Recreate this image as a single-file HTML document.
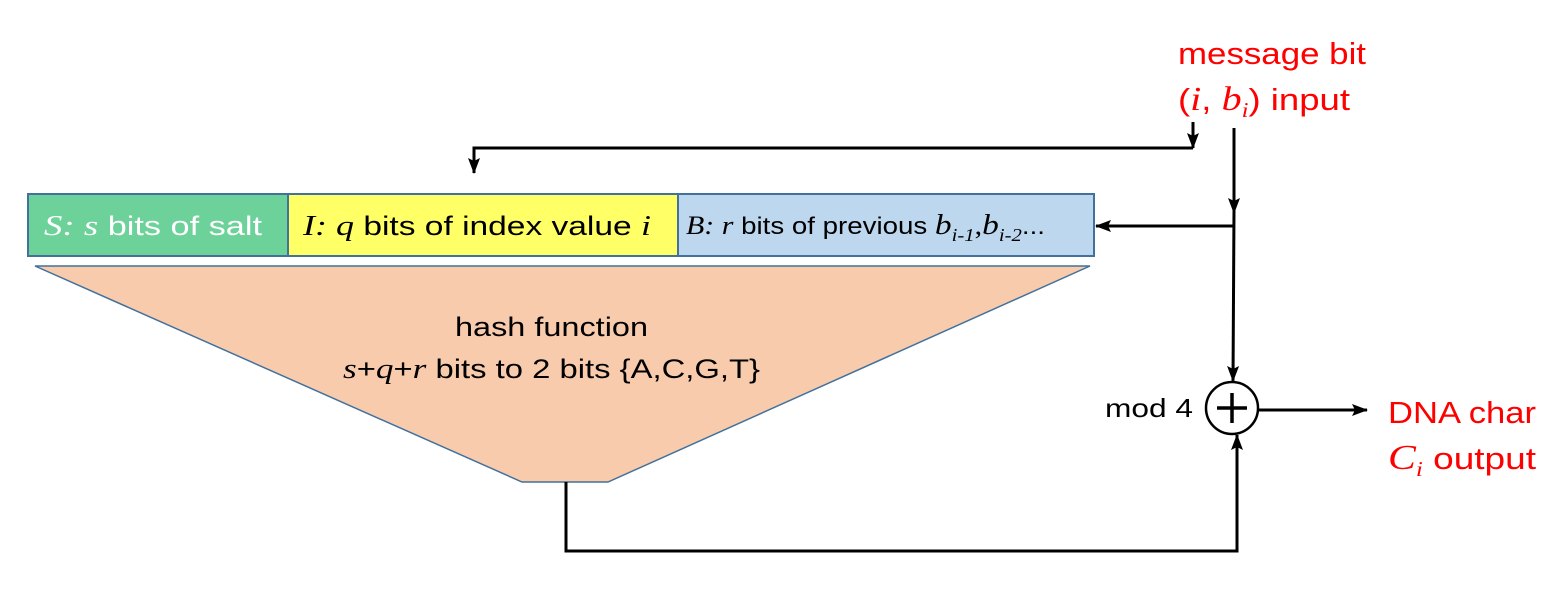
<!DOCTYPE html>
<html><head><style>html,body{margin:0;padding:0;background:#fff;}svg{display:block}</style></head>
<body>
<svg width="1556" height="596" viewBox="0 0 1556 596" xmlns="http://www.w3.org/2000/svg">
<defs>
<marker id="a" markerWidth="16" markerHeight="14" refX="15" refY="7" orient="auto" markerUnits="userSpaceOnUse" viewBox="0 0 16 14">
<path d="M0,1 L16,7 L0,13 L3,7 Z" fill="#000"/></marker>
</defs>
<g stroke="#41719c" stroke-width="2">
<rect x="28" y="194" width="260" height="62" fill="#6dd19a"/>
<rect x="288" y="194" width="390" height="62" fill="#ffff66"/>
<rect x="678" y="194" width="416" height="62" fill="#bdd7ee"/>
<polygon points="35,266 1090,266 608,482 522,482" fill="#f8cbad" stroke-width="1.5"/>
</g>
<g font-family="Liberation Sans, sans-serif" font-size="27">
<text x="44" y="235" fill="#fff" textLength="218" lengthAdjust="spacingAndGlyphs"><tspan font-family="Liberation Serif, serif" font-style="italic" font-size="29">S: s</tspan> bits of salt</text>
<text x="303" y="235" fill="#000" textLength="348" lengthAdjust="spacingAndGlyphs"><tspan font-family="Liberation Serif, serif" font-style="italic" font-size="29">I: q</tspan> bits of index value <tspan font-family="Liberation Serif, serif" font-style="italic" font-size="29">i</tspan></text>
<text x="686" y="234" font-size="24" fill="#000" textLength="359" lengthAdjust="spacingAndGlyphs"><tspan font-family="Liberation Serif, serif" font-style="italic" font-size="26">B: r</tspan> bits of previous <tspan font-family="Liberation Serif, serif" font-style="italic" font-size="29">b</tspan><tspan font-family="Liberation Serif, serif" font-style="italic" font-size="18" dy="7">i-1</tspan><tspan dy="-7" font-family="Liberation Serif, serif" font-size="26">,</tspan><tspan font-family="Liberation Serif, serif" font-style="italic" font-size="29">b</tspan><tspan font-family="Liberation Serif, serif" font-style="italic" font-size="18" dy="7">i-2</tspan><tspan dy="-7">...</tspan></text>
<text x="455" y="336" font-size="27" textLength="193" lengthAdjust="spacingAndGlyphs">hash function</text>
<text x="343" y="378" font-size="27" textLength="417" lengthAdjust="spacingAndGlyphs"><tspan font-family="Liberation Serif, serif" font-style="italic" font-size="29">s</tspan>+<tspan font-family="Liberation Serif, serif" font-style="italic" font-size="29">q</tspan>+<tspan font-family="Liberation Serif, serif" font-style="italic" font-size="29">r</tspan> bits to 2 bits {A,C,G,T}</text>
<text x="1105" y="417" font-size="26" textLength="88" lengthAdjust="spacingAndGlyphs">mod 4</text>
<g fill="#ff0000" font-size="31">
<text x="1178" y="64" textLength="188" lengthAdjust="spacingAndGlyphs">message bit</text>
<text x="1178" y="110" textLength="172" lengthAdjust="spacingAndGlyphs">(<tspan font-family="Liberation Serif, serif" font-style="italic" font-size="34">i</tspan>, <tspan font-family="Liberation Serif, serif" font-style="italic" font-size="34">b</tspan><tspan font-family="Liberation Serif, serif" font-style="italic" font-size="21" dy="7">i</tspan><tspan dy="-7">) input</tspan></text>
<text x="1388" y="423" textLength="148" lengthAdjust="spacingAndGlyphs">DNA char</text>
<text x="1388" y="469" textLength="148" lengthAdjust="spacingAndGlyphs"><tspan font-family="Liberation Serif, serif" font-style="italic" font-size="35">C</tspan><tspan font-family="Liberation Serif, serif" font-style="italic" font-size="21" dy="7">i</tspan><tspan dy="-7"> output</tspan></text>
</g>
</g>
<g stroke="#000" stroke-width="3" fill="none">
<line x1="1193" y1="122" x2="1193" y2="148" marker-end="url(#a)"/>
<polyline points="1193,148 474,148 474,173" marker-end="url(#a)"/>
<line x1="1234" y1="128" x2="1234" y2="213" marker-end="url(#a)"/>
<line x1="1234" y1="210" x2="1233" y2="381" marker-end="url(#a)"/>
<line x1="1234" y1="226" x2="1096" y2="226" marker-end="url(#a)"/>
<polyline points="566,482 566,551 1237,551 1237,435" marker-end="url(#a)"/>
<circle cx="1232" cy="408" r="26" stroke-width="2.5"/>
<line x1="1217" y1="408" x2="1247" y2="408" stroke-width="3.5"/>
<line x1="1232" y1="393" x2="1232" y2="423" stroke-width="3.5"/>
<line x1="1258" y1="410" x2="1367" y2="410" marker-end="url(#a)"/>
</g>
</svg>
</body></html>
